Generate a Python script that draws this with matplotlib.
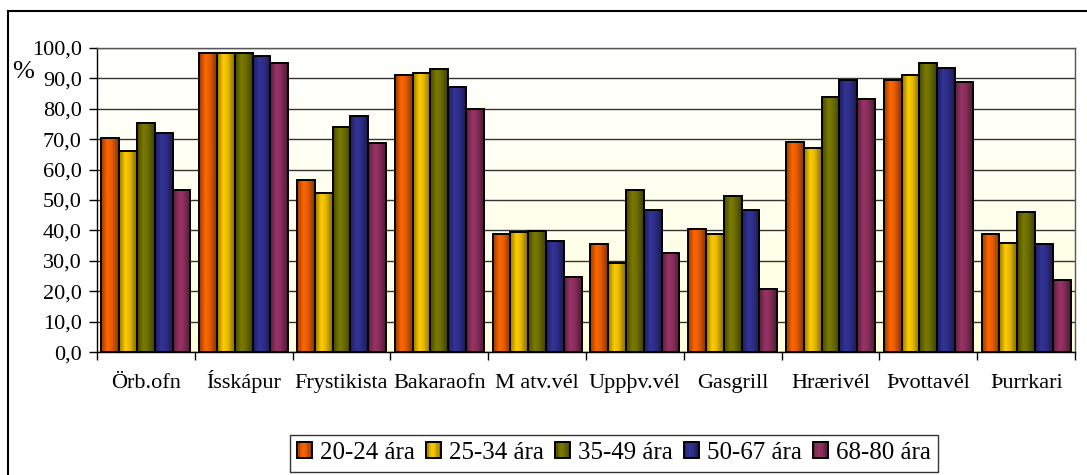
import numpy as np
import matplotlib.pyplot as plt
from matplotlib.lines import Line2D
from matplotlib.patches import Rectangle
from matplotlib.legend_handler import HandlerBase
from matplotlib.colors import to_rgb

plt.rcParams['font.family'] = ['Liberation Serif', 'DejaVu Serif']

categories = ['Örb.ofn', 'Ísskápur', 'Frystikista', 'Bakaraofn', 'M atv.vél',
              'Uppþv.vél', 'Gasgrill', 'Hrærivél', 'Þvottavél', 'Þurrkari']
groups = ['20-24 ára', '25-34 ára', '35-49 ára', '50-67 ára', '68-80 ára']
v_20_24 = [70.2, 98.2, 56.6, 91.1, 38.8, 35.4, 40.5, 69.0, 89.5, 38.8]
v_25_34 = [66.2, 98.2, 52.2, 91.6, 39.5, 29.2, 38.7, 67.0, 91.1, 35.9]
v_35_49 = [75.3, 98.2, 74.1, 93.1, 39.8, 53.3, 51.2, 83.8, 94.9, 46.2]
v_50_67 = [72.0, 97.3, 77.5, 87.1, 36.5, 46.6, 46.6, 89.5, 93.2, 35.4]
v_68_80 = [53.3, 94.9, 68.6, 79.8, 24.7, 32.5, 20.8, 83.2, 88.8, 23.7]
series = [v_20_24, v_25_34, v_35_49, v_50_67, v_68_80]
colors = ['#ff6600', '#ffcc00', '#7a7a00', '#333399', '#993366']

# shading across a bar: dark edges, bright just left of centre
prof_x = [0.0, 0.12, 0.35, 0.6, 0.85, 1.0]
prof_y = [0.58, 0.72, 1.0, 0.9, 0.66, 0.52]


def gradient(color, n=64):
    f = np.interp(np.linspace(0, 1, n), prof_x, prof_y)
    c = np.array(to_rgb(color))
    return (f[:, None] * c[None, :])[None, :, :]


fig = plt.figure(figsize=(10.87, 4.75), dpi=100)
ax = fig.add_axes([97 / 1087, 1 - 352.3 / 475, 978 / 1087, 304.6 / 475])

# plot area background: pale yellow at the bottom fading to white at the top
t = np.linspace(1, 0, 100)[:, None, None]
bg = 1 - t * np.array([0, 0, 0.13])[None, None, :]
bg = np.repeat(bg, 2, axis=1)
ax.imshow(bg, extent=[0, 1, 0, 1], origin='lower', transform=ax.transAxes,
          aspect='auto', zorder=0)

x = np.arange(len(categories))
w = 0.182
for i, (vals, col) in enumerate(zip(series, colors)):
    xs = x - 2 * w + i * w
    bars = ax.bar(xs, vals, w, facecolor='none', edgecolor='black', linewidth=1.4, zorder=3)
    for b in bars:
        im = ax.imshow(gradient(col), extent=[b.get_x(), b.get_x() + w, 0, b.get_height()],
                       aspect='auto', zorder=2, interpolation='bilinear')
        im.set_clip_path(b)

ax.set_xlim(-0.5, len(categories) - 0.5)
ax.set_ylim(0, 100)
ax.set_yticks(np.arange(0, 101, 10))
ax.set_yticklabels([f'{v:.1f}'.replace('.', ',') for v in np.arange(0, 101, 10)])
ax.yaxis.grid(True, color='#333333', linewidth=1.0, zorder=1)
ax.set_axisbelow(True)
ax.set_xticks(x)
ax.set_xticklabels(categories, va='baseline')
ax.set_xticks(np.arange(-0.5, len(categories)), minor=True)
ax.tick_params(axis='x', which='major', length=0, pad=26, labelsize=16)
ax.tick_params(axis='x', which='minor', length=6, width=1, direction='out')
ax.tick_params(axis='y', length=6, width=1, pad=5, labelsize=16)
for s in ['left', 'bottom']:
    ax.spines[s].set_color('black')
    ax.spines[s].set_linewidth(1)
for s in ['top', 'right']:
    ax.spines[s].set_color('#555555')
    ax.spines[s].set_linewidth(1)

fig.text(12 / 1087, 1 - 72 / 475, '%', fontsize=19, va='center', ha='left')


class GradientSwatch(HandlerBase):
    def create_artists(self, legend, orig_handle, xdescent, ydescent, width, height, fontsize, trans):
        col = orig_handle
        n = 6
        arts = []
        f = np.interp((np.arange(n) + 0.5) / n, prof_x, prof_y)
        for k in range(n):
            arts.append(Rectangle((-xdescent + k * width / n, -ydescent), width / n, height,
                                  facecolor=f[k] * np.array(to_rgb(col)), edgecolor='none',
                                  transform=trans))
        arts.append(Rectangle((-xdescent, -ydescent), width, height, facecolor='none',
                              edgecolor='black', linewidth=1.4, transform=trans))
        return arts


leg = fig.legend(colors, groups, handler_map={str: GradientSwatch()}, loc='center',
                 bbox_to_anchor=(614 / 1087, 1 - 453 / 475), ncol=5, fontsize=18,
                 frameon=True, fancybox=False, edgecolor='black', handlelength=0.6,
                 handleheight=0.6, handletextpad=0.32, columnspacing=0.44, borderpad=0.3,
                 borderaxespad=0)
leg.get_frame().set_linewidth(1)

# outer chart border
fig.add_artist(Line2D([7.5 / 1087, 7.5 / 1087], [0, 1 - 11 / 475], color='black', lw=1.5))
fig.add_artist(Line2D([7.5 / 1087, 1], [1 - 11 / 475, 1 - 11 / 475], color='black', lw=1.5))

fig.savefig('out.png', dpi=100)
